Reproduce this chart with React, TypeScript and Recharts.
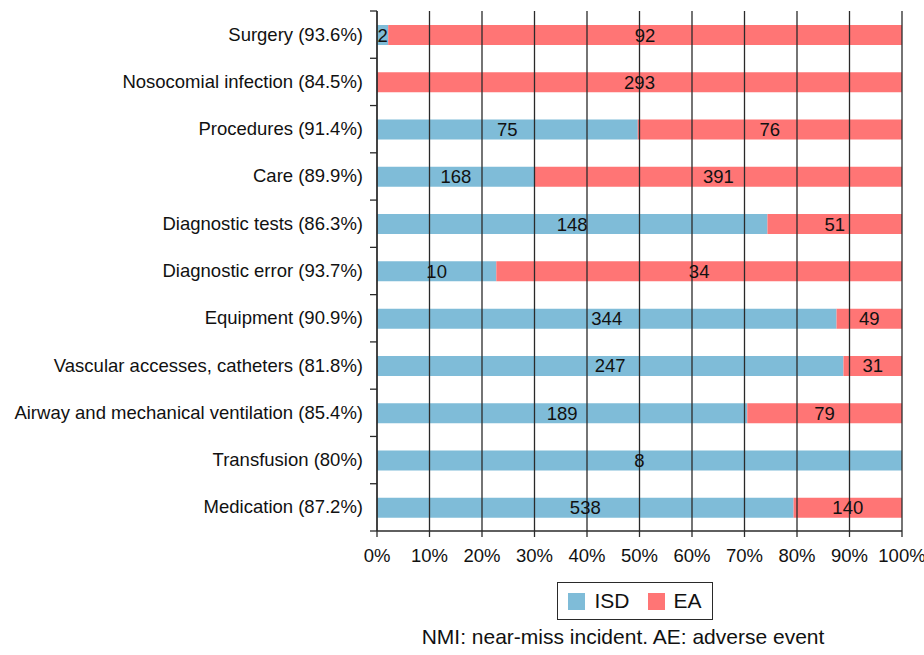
import React from "react";
import {
  Bar,
  BarChart,
  LabelList,
  ReferenceLine,
  XAxis,
  YAxis,
} from "recharts";

const categories = [
  "Surgery (93.6%)",
  "Nosocomial infection (84.5%)",
  "Procedures (91.4%)",
  "Care (89.9%)",
  "Diagnostic tests (86.3%)",
  "Diagnostic error (93.7%)",
  "Equipment (90.9%)",
  "Vascular accesses, catheters (81.8%)",
  "Airway and mechanical ventilation (85.4%)",
  "Transfusion (80%)",
  "Medication (87.2%)",
];
const isd = [2, 0, 75, 168, 148, 10, 344, 247, 189, 8, 538];
const ea = [92, 293, 76, 391, 51, 34, 49, 31, 79, 0, 140];
const xTicks = [0, 0.1, 0.2, 0.3, 0.4, 0.5, 0.6, 0.7, 0.8, 0.9, 1];
const seriesNames = ["ISD", "EA"];
const caption = "NMI: near-miss incident. AE: adverse event";

const AZUL = "#7fbcd8";
const ROJO = "#ff7575";
const TINTA = "#111111";
const LINEA = "#2a2a2a";
const FUENTE = "'Liberation Sans', Arial, Helvetica, sans-serif";
const TAM = 18.5;

const W = 924;
const PLOT_LEFT = 377;
const PLOT_TOP = 11;
const PLOT_BOTTOM = 531;
const PLOT_RIGHT = 902;
const BAND = (PLOT_BOTTOM - PLOT_TOP) / categories.length;

const data = categories.map((c, i) => ({ cat: c, isd: isd[i], ea: ea[i] }));

// Etiqueta del eje Y con la marca en el borde de cada banda
function CatTick(props: { x?: number; y?: number; index?: number; payload?: { value: string } }) {
  const { x = 0, y = 0, index = 0, payload } = props;
  const top = y - BAND / 2;
  return (
    <g>
      <line x1={PLOT_LEFT - 7} x2={PLOT_LEFT} y1={top} y2={top} stroke={LINEA} strokeWidth={1.3} />
      {index === categories.length - 1 && (
        <line x1={PLOT_LEFT - 7} x2={PLOT_LEFT} y1={y + BAND / 2} y2={y + BAND / 2} stroke={LINEA} strokeWidth={1.3} />
      )}
      <text x={x} y={y} dy={6} textAnchor="end" fill={TINTA} fontSize={TAM} fontFamily={FUENTE}>
        {payload?.value}
      </text>
    </g>
  );
}

const sinCero = (v: unknown) => (Number(v) === 0 ? "" : String(v));

export default function App() {
  return (
    <div style={{ position: "absolute", left: 0, top: 0, width: W, height: 655, background: "#fff", fontFamily: FUENTE }}>
      <BarChart
        width={W}
        height={PLOT_BOTTOM + 44}
        data={data}
        layout="vertical"
        stackOffset="expand"
        margin={{ top: PLOT_TOP, right: W - PLOT_RIGHT, bottom: 0, left: 0 }}
      >
        <XAxis
          type="number"
          domain={[0, 1]}
          ticks={xTicks}
          tickFormatter={(v: number) => `${Math.round(v * 100)}%`}
          tick={{ fontSize: TAM, fill: TINTA, fontFamily: FUENTE }}
          tickLine={{ stroke: LINEA, strokeWidth: 1.3 }}
          tickSize={6}
          tickMargin={12}
          axisLine={{ stroke: LINEA, strokeWidth: 1.3 }}
          height={44}
          interval={0}
        />
        <YAxis
          type="category"
          dataKey="cat"
          width={PLOT_LEFT}
          tick={<CatTick />}
          tickLine={false}
          tickMargin={14}
          tickSize={0}
          axisLine={{ stroke: LINEA, strokeWidth: 1.3 }}
          interval={0}
        />
        <Bar dataKey="isd" stackId="a" fill={AZUL} barSize={20} isAnimationActive={false}>
          <LabelList dataKey="isd" position="center" formatter={sinCero} fill={TINTA} fontSize={TAM} fontFamily={FUENTE} />
        </Bar>
        <Bar dataKey="ea" stackId="a" fill={ROJO} barSize={20} isAnimationActive={false}>
          <LabelList dataKey="ea" position="center" formatter={sinCero} fill={TINTA} fontSize={TAM} fontFamily={FUENTE} />
        </Bar>
        {xTicks.map((t) => (
          <ReferenceLine key={t} x={t} stroke={LINEA} strokeWidth={1.3} />
        ))}
      </BarChart>
      <div
        style={{
          position: "absolute",
          left: 557,
          top: 582,
          width: 154,
          height: 36,
          border: `1px solid ${LINEA}`,
          display: "flex",
          alignItems: "center",
          justifyContent: "center",
          gap: 18,
          fontSize: 21,
          color: TINTA,
        }}
      >
        {seriesNames.map((n, i) => (
          <span key={n} style={{ display: "flex", alignItems: "center", gap: 9 }}>
            <span style={{ width: 17, height: 17, background: i === 0 ? AZUL : ROJO, display: "inline-block" }} />
            {n}
          </span>
        ))}
      </div>
      <div
        style={{
          position: "absolute",
          left: 0,
          width: 1246,
          top: 625,
          textAlign: "center",
          fontSize: 21,
          color: TINTA,
        }}
      >
        {caption}
      </div>
    </div>
  );
}
